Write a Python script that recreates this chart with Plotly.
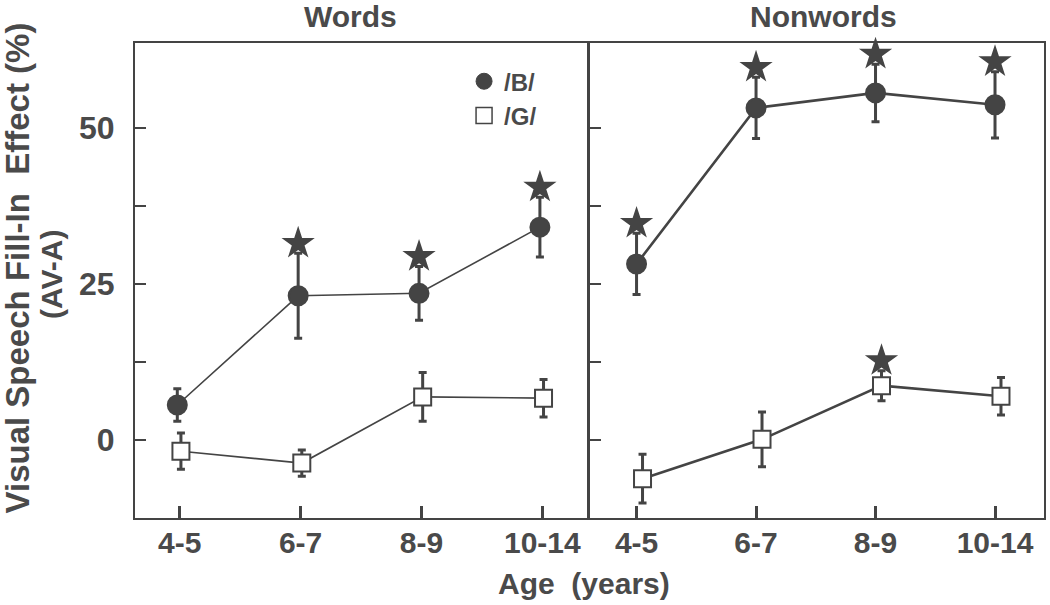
import plotly.graph_objects as go

ages = ["4-5", "6-7", "8-9", "10-14"]

# Words panel
words_B = [5.6, 23.1, 23.5, 34.1]
words_B_err = [2.6, 6.8, 4.3, 4.8]
words_B_sig = [False, True, True, True]
words_G = [-1.8, -3.7, 6.9, 6.7]
words_G_err = [2.9, 2.1, 3.9, 3.0]
words_G_sig = [False, False, False, False]

# Nonwords panel
non_B = [28.2, 53.2, 55.6, 53.7]
non_B_err = [4.9, 4.9, 4.6, 5.3]
non_B_sig = [True, True, True, True]
non_G = [-6.2, 0.1, 8.7, 7.0]
non_G_err = [3.9, 4.4, 2.4, 3.0]
non_G_sig = [False, False, True, False]

INK = "#444444"
TXT = "#4a4a4a"
FONT = "Liberation Sans, Arial, Helvetica, sans-serif"

fig = go.Figure()


def add_series(xa, ya, vals, errs, sig, offset, symbol, fill, lw, size):
    xs = [i + offset for i in range(len(vals))]
    fig.add_trace(go.Scatter(
        x=xs, y=vals, xaxis=xa, yaxis=ya, mode="lines+markers",
        line=dict(color=INK, width=lw),
        marker=dict(symbol=symbol, size=size, color=fill,
                    line=dict(color=INK, width=2)),
        error_y=dict(type="data", array=errs, visible=True,
                     color=INK, thickness=3, width=4),
        showlegend=False, hoverinfo="skip", cliponaxis=False))
    sx = [x for x, s in zip(xs, sig) if s]
    sy = [v + e + 1.6 for v, e, s in zip(vals, errs, sig) if s]
    if sx:
        fig.add_trace(go.Scatter(
            x=sx, y=sy, xaxis=xa, yaxis=ya, mode="markers",
            marker=dict(symbol="star", size=25, color=INK,
                        line=dict(color=INK, width=0)),
            showlegend=False, hoverinfo="skip", cliponaxis=False))


add_series("x", "y", words_G, words_G_err, words_G_sig, 0.01, "square", "white", 1.6, 17)
add_series("x", "y", words_B, words_B_err, words_B_sig, -0.02, "circle", INK, 1.6, 19)
add_series("x2", "y2", non_G, non_G_err, non_G_sig, 0.05, "square", "white", 2.6, 17)
add_series("x2", "y2", non_B, non_B_err, non_B_sig, 0.0, "circle", INK, 2.6, 19)

# legend entries
fig.add_trace(go.Scatter(x=[None], y=[None], mode="markers", name="/B/",
                         marker=dict(symbol="circle", size=18, color=INK,
                                     line=dict(color=INK, width=1))))
fig.add_trace(go.Scatter(x=[None], y=[None], mode="markers", name="/G/",
                         marker=dict(symbol="square", size=17, color="white",
                                     line=dict(color=INK, width=1.5))))

yticks = [0, 12.5, 25, 37.5, 50]
ylabels = ["0", "", "25", "", "50"]

xcommon = dict(tickmode="array", tickvals=[0, 1, 2, 3], ticktext=ages,
               ticks="inside", ticklen=12, tickwidth=3, tickcolor=INK,
               showline=True, linecolor=INK, linewidth=2, mirror=True,
               showgrid=False, zeroline=False, ticklabelstandoff=-3,
               tickfont=dict(family=FONT, size=30, color=TXT, weight="bold"))
ycommon = dict(range=[-12.5, 63.6], tickmode="array", tickvals=yticks,
               ticks="inside", ticklen=11, tickwidth=2, tickcolor=INK,
               showline=True, linecolor=INK, linewidth=2, mirror=True,
               showgrid=False, zeroline=False,
               tickfont=dict(family=FONT, size=32, color=TXT, weight="bold"))


def ann(text, x, y, size, angle=0):
    return dict(text=text, x=x, y=y, xref="paper", yref="paper",
                xanchor="center", yanchor="middle", textangle=angle,
                showarrow=False,
                font=dict(family=FONT, size=size, color=TXT, weight="bold"))


fig.update_layout(
    width=1050, height=605,
    margin=dict(l=135, r=4, t=43, b=87),
    plot_bgcolor="white", paper_bgcolor="white",
    xaxis=dict(domain=[0, 0.4973], range=[-0.37, 3.37], **xcommon),
    xaxis2=dict(domain=[0.5005, 1], range=[-0.39, 3.41], anchor="y2", **xcommon),
    yaxis=dict(ticktext=ylabels, ticklabelstandoff=12, **ycommon),
    yaxis2=dict(anchor="x2", ticktext=[""] * 5, showticklabels=False, **ycommon),
    showlegend=True,
    legend=dict(x=0.362, y=0.966, xanchor="left", yanchor="top",
                bgcolor="rgba(0,0,0,0)", tracegroupgap=0,
                font=dict(family=FONT, size=24, color=TXT, weight="bold"),
                itemsizing="trace"),
    annotations=[
        ann("Words", 0.237, 1.055, 30),
        ann("Nonwords", 0.757, 1.055, 30),
        ann("Age  (years)", 0.494, -0.137, 30),
        ann("Visual Speech Fill-In  Effect (%)", -0.1295, 0.526, 33, -90),
        ann("(AV-A)", -0.0911, 0.512, 30, -90),
    ],
)

fig.write_html("out.html", config={"displayModeBar": False},
               post_script="document.body.style.margin='0';document.body.style.padding='0';")
